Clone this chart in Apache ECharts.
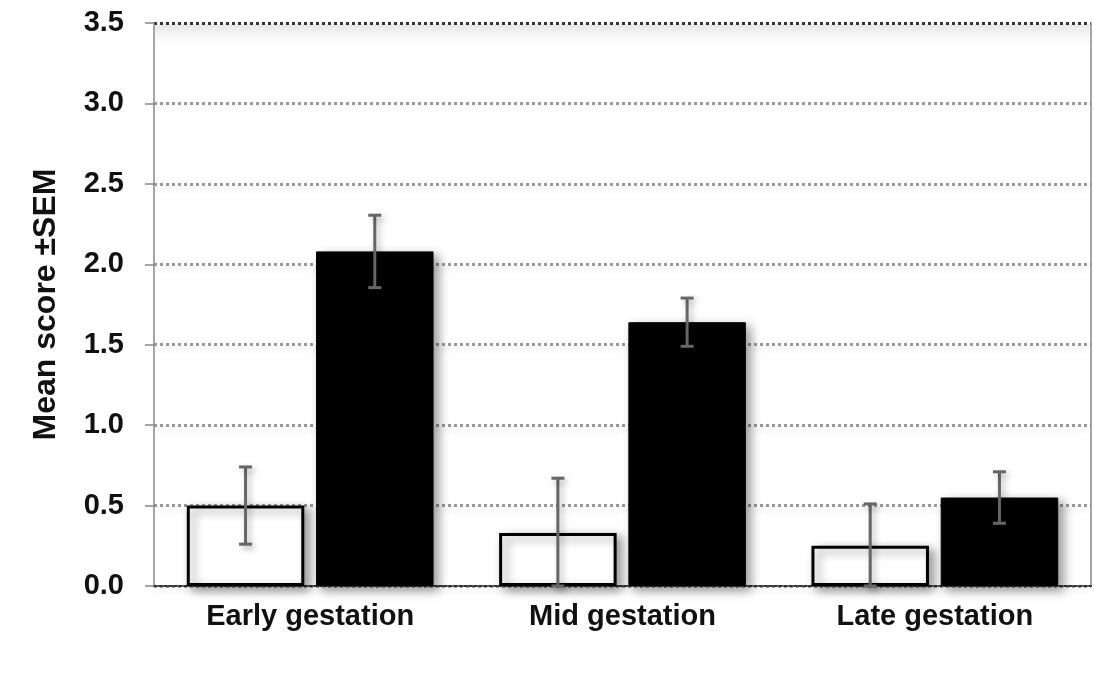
<!DOCTYPE html>
<html>
<head>
<meta charset="utf-8">
<script src="https://cdn.jsdelivr.net/npm/echarts@6/dist/echarts.min.js"></script>
<style>html,body{margin:0;padding:0;background:#fff;}#c{width:1094px;height:673px;}</style>
</head>
<body>
<div id="c"></div>
<script>
var categories = ['Early gestation', 'Mid gestation', 'Late gestation'];
var whiteMeans = [0.50, 0.33, 0.25];
var whiteSEM = [0.24, 0.34, 0.26];
var blackMeans = [2.08, 1.64, 0.55];
var blackSEM = [0.225, 0.15, 0.16];
var yTicks = [0, 0.5, 1.0, 1.5, 2.0, 2.5, 3.0, 3.5];

var FONT = 'Liberation Sans, Arial, sans-serif';
var CAT_GAP = 0.21, BAR_GAP = 0.10;

function errData(means, sems) {
  return means.map(function (m, i) {
    return [i, Math.max(0, m - sems[i]), m + sems[i]];
  });
}

function makeErr(sign) {
  return function (params, api) {
    var band = api.size([1, 0])[0];
    var bw = band * (1 - CAT_GAP) / (2 + BAR_GAP);
    var off = sign * (bw + bw * BAR_GAP) / 2;
    var lo = api.coord([api.value(0), api.value(1)]);
    var hi = api.coord([api.value(0), api.value(2)]);
    var x = lo[0] + off;
    var cap = 6.5;
    var style = {stroke: '#666', lineWidth: 3, shadowBlur: 6, shadowColor: 'rgba(0,0,0,0.3)', shadowOffsetX: 3, shadowOffsetY: 3};
    return {
      type: 'group',
      children: [
        {type: 'line', shape: {x1: x, y1: hi[1], x2: x, y2: lo[1]}, style: style},
        {type: 'line', shape: {x1: x - cap, y1: hi[1], x2: x + cap, y2: hi[1]}, style: style},
        {type: 'line', shape: {x1: x - cap, y1: lo[1], x2: x + cap, y2: lo[1]}, style: style}
      ]
    };
  };
}

var chart = echarts.init(document.getElementById('c'), null, {renderer: 'canvas'});
var gridColors = yTicks.map(function (t, i) { return (i === yTicks.length - 1) ? '#333' : '#999'; });

chart.setOption({
  animation: false,
  backgroundColor: '#fff',
  grid: {left: 154, right: 3, top: 23, bottom: 87},
  graphic: [{
    type: 'rect',
    left: 155, top: 24,
    shape: {width: 935, height: 22},
    style: {fill: new echarts.graphic.LinearGradient(0, 0, 0, 1, [
      {offset: 0, color: 'rgba(0,0,0,0.07)'}, {offset: 1, color: 'rgba(0,0,0,0)'}])},
    silent: true, z: -1
  }],
  xAxis: {
    type: 'category',
    data: categories,
    axisTick: {show: false},
    axisLine: {show: true, lineStyle: {color: '#333', width: 2, type: [3, 2]}},
    axisLabel: {color: '#111', fontFamily: FONT, fontWeight: 'bold', fontSize: 29, margin: 16}
  },
  yAxis: [{
    type: 'value',
    min: 0, max: 3.5, interval: 0.5,
    name: 'Mean score \u00b1SEM',
    nameLocation: 'middle',
    nameGap: 92,
    nameTextStyle: {color: '#111', fontFamily: FONT, fontWeight: 'bold', fontSize: 32},
    axisLine: {show: true, lineStyle: {color: '#888', width: 1.5}},
    axisTick: {show: true, length: 9, lineStyle: {color: '#888', width: 1.5}},
    axisLabel: {color: '#111', fontFamily: FONT, fontWeight: 'bold', fontSize: 29, margin: 30,
      formatter: function (v) { return v.toFixed(1); }},
    splitLine: {show: true, lineStyle: {color: gridColors, width: 3, type: [3, 3],
      shadowBlur: 6, shadowColor: 'rgba(0,0,0,0.15)', shadowOffsetY: 4}}
  }, {
    type: 'value',
    position: 'right',
    min: 0, max: 3.5, interval: 0.5,
    axisLine: {show: true, lineStyle: {color: '#888', width: 1.5}},
    axisTick: {show: false},
    axisLabel: {show: false},
    splitLine: {show: false}
  }],
  series: [{
    type: 'bar',
    data: whiteMeans,
    barGap: (BAR_GAP * 100) + '%',
    barCategoryGap: (CAT_GAP * 100) + '%',
    itemStyle: {color: '#fff', borderColor: '#000', borderWidth: 3,
      shadowBlur: 10, shadowColor: 'rgba(0,0,0,0.4)', shadowOffsetX: 5, shadowOffsetY: 4},
    z: 3
  }, {
    type: 'bar',
    data: blackMeans,
    itemStyle: {color: '#000', borderColor: '#000', borderWidth: 1,
      shadowBlur: 10, shadowColor: 'rgba(0,0,0,0.4)', shadowOffsetX: 5, shadowOffsetY: 4},
    z: 3
  }, {
    type: 'custom',
    data: errData(whiteMeans, whiteSEM),
    renderItem: makeErr(-1),
    encode: {x: 0, y: [1, 2]},
    z: 5
  }, {
    type: 'custom',
    data: errData(blackMeans, blackSEM),
    renderItem: makeErr(1),
    encode: {x: 0, y: [1, 2]},
    z: 5
  }]
});
</script>
</body>
</html>
